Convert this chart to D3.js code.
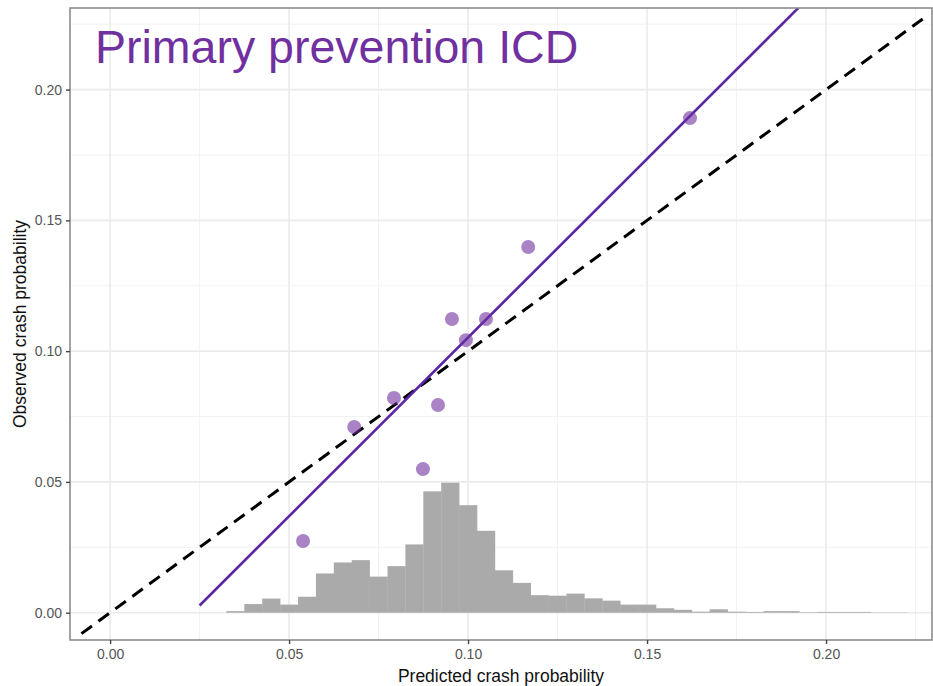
<!DOCTYPE html>
<html>
<head>
<meta charset="utf-8">
<script src="https://cdn.jsdelivr.net/npm/d3@7"></script>
<style>
  body { margin: 0; background: #fff; }
  svg { font-family: "Liberation Sans", Arial, sans-serif; }
</style>
</head>
<body>
<div id="chart"></div>
<script>
// calibration points (decile groups)
const predicted = [0.0539, 0.0682, 0.0793, 0.0916, 0.0874, 0.0955, 0.0994, 0.1050, 0.1168, 0.1620];
const observed  = [0.0274, 0.0710, 0.0821, 0.0794, 0.0549, 0.1123, 0.1042, 0.1123, 0.1398, 0.1891];

// histogram of predicted probabilities (scaled to the y axis)
const binStart = 0.0325;
const binWidth = 0.005;
const binHeights = [
  0.0006, 0.0033, 0.0054, 0.0031, 0.0061, 0.0150, 0.0192, 0.0201, 0.0138, 0.0178,
  0.0261, 0.0464, 0.0497, 0.0411, 0.0313, 0.0162, 0.0114, 0.0067, 0.0065, 0.0073,
  0.0055, 0.0046, 0.0031, 0.0031, 0.0017, 0.0011, 0.0004, 0.0013, 0.0004, 0.0003,
  0.0006, 0.0006, 0.0002, 0.0003, 0.0003, 0.0003, 0.0001, 0.0001
];

// fitted calibration line
const fitSlope = 1.366;
const fitIntercept = -0.0314;
const fitRange = [0.025, 0.2];

// reference diagonal
const diagRange = [-0.008, 0.227];

const xTicks = [0, 0.05, 0.10, 0.15, 0.20];
const yTicks = [0, 0.05, 0.10, 0.15, 0.20];
const minorTicks = [0.025, 0.075, 0.125, 0.175, 0.225];

const width = 933, height = 686;
const margin = { top: 8, right: 1, bottom: 46, left: 70 };

const svg = d3.select("#chart").append("svg")
    .attr("width", width)
    .attr("height", height);

const x = d3.scaleLinear()
    .domain([-0.0112, 0.2296])
    .range([margin.left, width - margin.right]);

const y = d3.scaleLinear()
    .domain([-0.01044, 0.2312])
    .range([height - margin.bottom, margin.top]);

svg.append("defs").append("clipPath")
    .attr("id", "panel")
    .append("rect")
    .attr("x", margin.left)
    .attr("y", margin.top)
    .attr("width", width - margin.left - margin.right)
    .attr("height", height - margin.top - margin.bottom);

// grid
const grid = svg.append("g");
grid.selectAll(".vminor").data(minorTicks).enter().append("line")
    .attr("x1", d => x(d)).attr("x2", d => x(d))
    .attr("y1", margin.top).attr("y2", height - margin.bottom)
    .attr("stroke", "#f2f2f2").attr("stroke-width", 1);
grid.selectAll(".hminor").data(minorTicks).enter().append("line")
    .attr("y1", d => y(d)).attr("y2", d => y(d))
    .attr("x1", margin.left).attr("x2", width - margin.right)
    .attr("stroke", "#f2f2f2").attr("stroke-width", 1);
grid.selectAll(".vmajor").data(xTicks).enter().append("line")
    .attr("x1", d => x(d)).attr("x2", d => x(d))
    .attr("y1", margin.top).attr("y2", height - margin.bottom)
    .attr("stroke", "#ebebeb").attr("stroke-width", 1.6);
grid.selectAll(".hmajor").data(yTicks).enter().append("line")
    .attr("y1", d => y(d)).attr("y2", d => y(d))
    .attr("x1", margin.left).attr("x2", width - margin.right)
    .attr("stroke", "#ebebeb").attr("stroke-width", 1.6);

const plot = svg.append("g").attr("clip-path", "url(#panel)");

// histogram
plot.selectAll(".bar")
    .data(binHeights)
    .enter()
    .append("rect")
    .attr("x", (d, i) => x(binStart + i * binWidth))
    .attr("width", (d, i) => x(binStart + (i + 1) * binWidth) - x(binStart + i * binWidth) + 0.3)
    .attr("y", d => y(d))
    .attr("height", d => y(0) - y(d))
    .attr("fill", "#aaaaaa");

// diagonal
plot.append("line")
    .attr("x1", x(diagRange[0])).attr("y1", y(diagRange[0]))
    .attr("x2", x(diagRange[1])).attr("y2", y(diagRange[1]))
    .attr("stroke", "#000")
    .attr("stroke-width", 3)
    .attr("stroke-dasharray", "13,8");

// fitted line
plot.append("line")
    .attr("x1", x(fitRange[0])).attr("y1", y(fitIntercept + fitSlope * fitRange[0]))
    .attr("x2", x(fitRange[1])).attr("y2", y(fitIntercept + fitSlope * fitRange[1]))
    .attr("stroke", "#5b26a3")
    .attr("stroke-width", 2.6);

// points
plot.selectAll(".pt")
    .data(predicted)
    .enter()
    .append("circle")
    .attr("cx", d => x(d))
    .attr("cy", (d, i) => y(observed[i]))
    .attr("r", 7)
    .attr("fill", "#7030a0")
    .attr("fill-opacity", 0.6);

// panel border
svg.append("rect")
    .attr("x", margin.left)
    .attr("y", margin.top)
    .attr("width", width - margin.left - margin.right)
    .attr("height", height - margin.top - margin.bottom)
    .attr("fill", "none")
    .attr("stroke", "#8c8c8c")
    .attr("stroke-width", 1.6);

// axes
const xAxis = svg.append("g")
    .attr("transform", `translate(0,${height - margin.bottom})`)
    .call(d3.axisBottom(x).tickValues(xTicks).tickFormat(d3.format(".2f")).tickSize(4).tickPadding(5));
const yAxis = svg.append("g")
    .attr("transform", `translate(${margin.left},0)`)
    .call(d3.axisLeft(y).tickValues(yTicks).tickFormat(d3.format(".2f")).tickSize(4).tickPadding(4));

[xAxis, yAxis].forEach(a => {
    a.select(".domain").remove();
    a.selectAll(".tick line").attr("stroke", "#444").attr("stroke-width", 1.4);
    a.selectAll(".tick text")
        .attr("fill", "#555")
        .attr("font-size", "14px")
        .attr("font-family", "'Liberation Sans', Arial, sans-serif");
});

// axis titles
svg.append("text")
    .attr("x", (margin.left + width - margin.right) / 2)
    .attr("y", 682)
    .attr("text-anchor", "middle")
    .attr("font-size", "17.5px")
    .attr("fill", "#111")
    .text("Predicted crash probability");

svg.append("text")
    .attr("transform", `translate(26,${(margin.top + height - margin.bottom) / 2}) rotate(-90)`)
    .attr("text-anchor", "middle")
    .attr("font-size", "17.5px")
    .attr("fill", "#111")
    .text("Observed crash probability");

// title inside panel
svg.append("text")
    .attr("x", 95)
    .attr("y", 63)
    .attr("font-size", "46.5px")
    .attr("fill", "#7030a0")
    .text("Primary prevention ICD");
</script>
</body>
</html>
